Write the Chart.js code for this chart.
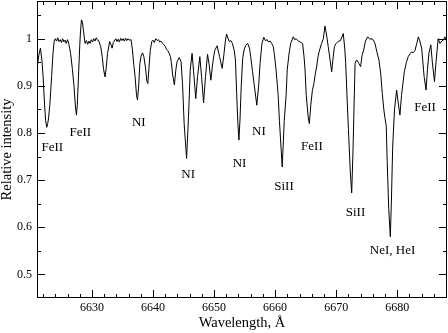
<!DOCTYPE html>
<html>
<head>
<meta charset="utf-8">
<script src="https://cdn.jsdelivr.net/npm/chart.js@4/dist/chart.umd.min.js"></script>
<style>
  html, body { margin: 0; padding: 0; background: #fff; }
  canvas { display: block; }
</style>
</head>
<body>
<canvas id="chart" width="448" height="333"></canvas>
<script>
// spectrum (wavelength in Å, relative intensity)
const wavelength = [
  6621.0, 6621.3, 6621.56, 6621.8, 6622.0, 6622.2, 6622.4, 6622.6, 6622.75, 6622.9,
  6623.1, 6623.4, 6623.6, 6623.8, 6624.0, 6624.2, 6624.4, 6624.6, 6624.8, 6625.0,
  6625.2, 6625.4, 6625.6, 6625.8, 6626.0, 6626.2, 6626.5, 6626.8, 6627.07, 6627.3,
  6627.46, 6627.6, 6627.79, 6628.0, 6628.1, 6628.28, 6628.45, 6628.6, 6628.87, 6629.1,
  6629.3, 6629.5, 6629.7, 6629.9, 6630.1, 6630.3, 6630.5, 6630.7, 6630.9, 6631.1,
  6631.44, 6631.7, 6631.9, 6632.15, 6632.35, 6632.55, 6632.9, 6633.1, 6633.3, 6633.5,
  6633.9, 6634.1, 6634.3, 6634.5, 6634.7, 6634.9, 6635.1, 6635.3, 6635.5, 6635.7,
  6635.9, 6636.1, 6636.4, 6636.6, 6636.85, 6637.07, 6637.3, 6637.46, 6637.65, 6637.85,
  6638.05, 6638.28, 6638.5, 6638.75, 6639.0, 6639.15, 6639.35, 6639.55, 6639.8, 6640.0,
  6640.2, 6640.46, 6640.7, 6640.9, 6641.1, 6641.3, 6641.56, 6641.8, 6642.0, 6642.2,
  6642.4, 6642.64, 6642.85, 6643.0, 6643.2, 6643.5, 6643.75, 6643.95, 6644.3, 6644.6,
  6644.85, 6645.1, 6645.5, 6645.8, 6646.1, 6646.4, 6646.65, 6647.0, 6647.3, 6647.67,
  6647.95, 6648.28, 6648.6, 6648.93, 6649.2, 6649.47, 6649.8, 6650.1, 6650.5, 6650.9,
  6651.33, 6651.6, 6651.85, 6652.05, 6652.3, 6652.5, 6652.75, 6653.0, 6653.3, 6653.5,
  6653.7, 6653.9, 6654.07, 6654.25, 6654.45, 6654.7, 6654.95, 6655.2, 6655.5, 6655.8,
  6656.0, 6656.3, 6656.55, 6657.0, 6657.3, 6657.55, 6657.84, 6658.15, 6658.4, 6658.7,
  6658.9, 6659.2, 6659.45, 6659.7, 6659.9, 6660.15, 6660.5, 6660.7, 6661.16, 6661.5,
  6661.8, 6661.98, 6662.3, 6662.55, 6662.97, 6663.2, 6663.45, 6663.8, 6664.1, 6664.5,
  6664.75, 6664.9, 6665.1, 6665.4, 6665.6, 6665.85, 6666.1, 6666.35, 6666.6, 6666.8,
  6667.0, 6667.2, 6667.6, 6667.9, 6668.16, 6668.4, 6668.7, 6669.0, 6669.26, 6669.5,
  6669.7, 6670.0, 6670.3, 6670.7, 6671.16, 6671.4, 6671.55, 6671.8, 6672.0, 6672.3,
  6672.54, 6672.75, 6672.95, 6673.1, 6673.35, 6673.7, 6674.0, 6674.25, 6674.5, 6674.8,
  6675.16, 6675.5, 6675.9, 6676.2, 6676.36, 6676.7, 6677.0, 6677.3, 6677.55, 6677.8,
  6678.0, 6678.2, 6678.35, 6678.6, 6678.87, 6679.05, 6679.25, 6679.55, 6679.9, 6680.1,
  6680.44, 6680.7, 6681.16, 6681.5, 6681.8, 6682.1, 6682.35, 6682.6, 6682.9, 6683.2,
  6683.46, 6683.7, 6684.0, 6684.4, 6684.72, 6684.95, 6685.2, 6685.5, 6685.75, 6686.1,
  6686.35, 6686.7, 6687.0, 6687.3, 6687.6, 6687.8, 6688.1
];
const intensity = [
  0.937, 0.965, 0.980, 0.955, 0.920, 0.870, 0.827, 0.812, 0.820, 0.832,
  0.860, 0.920, 0.965, 0.994, 1.000, 0.995, 1.002, 0.994, 0.998, 0.992,
  1.000, 0.993, 0.997, 0.990, 0.998, 0.990, 0.969, 0.935, 0.898, 0.855,
  0.838, 0.860, 0.919, 0.985, 1.010, 1.040, 1.035, 1.018, 0.990, 0.996,
  0.988, 0.995, 0.990, 0.998, 0.993, 1.000, 0.995, 1.002, 0.997, 0.996,
  0.983, 0.960, 0.935, 0.919, 0.940, 0.969, 0.994, 0.988, 0.980, 0.992,
  1.000, 0.994, 0.999, 0.993, 1.001, 0.996, 1.000, 0.995, 1.001, 0.996,
  1.000, 0.997, 0.998, 0.980, 0.945, 0.919, 0.880, 0.870, 0.900, 0.948,
  0.963, 0.970, 0.962, 0.940, 0.910, 0.905, 0.940, 0.975, 0.994, 0.997,
  0.992, 1.000, 0.996, 0.998, 0.993, 0.995, 0.990, 0.987, 0.984, 0.978,
  0.975, 0.969, 0.962, 0.950, 0.925, 0.902, 0.935, 0.952, 0.960, 0.951,
  0.900, 0.820, 0.746, 0.830, 0.935, 0.969, 0.930, 0.873, 0.920, 0.962,
  0.920, 0.864, 0.920, 0.967, 0.945, 0.912, 0.950, 0.975, 0.985, 0.962,
  0.937, 0.965, 0.995, 1.010, 1.000, 0.994, 0.996, 0.990, 0.975, 0.955,
  0.884, 0.820, 0.785, 0.830, 0.900, 0.960, 0.978, 0.986, 0.990, 0.980,
  0.962, 0.930, 0.905, 0.859, 0.900, 0.950, 0.990, 1.003, 0.996, 0.998,
  0.993, 0.995, 0.990, 0.983, 0.965, 0.934, 0.880, 0.827, 0.728, 0.827,
  0.880, 0.934, 0.970, 0.990, 1.004, 0.998, 1.000, 0.995, 0.993, 0.990,
  0.960, 0.934, 0.880, 0.835, 0.820, 0.860, 0.890, 0.905, 0.927, 0.940,
  0.960, 0.972, 0.990, 1.000, 1.027, 1.010, 0.983, 0.955, 0.930, 0.960,
  0.983, 0.990, 0.994, 0.996, 1.011, 0.980, 0.950, 0.870, 0.810, 0.720,
  0.673, 0.760, 0.870, 0.948, 0.955, 0.948, 0.941, 0.965, 0.976, 0.995,
  1.004, 0.999, 1.000, 0.994, 0.990, 0.970, 0.955, 0.925, 0.884, 0.850,
  0.831, 0.815, 0.742, 0.640, 0.580, 0.660, 0.770, 0.849, 0.891, 0.870,
  0.838, 0.880, 0.930, 0.950, 0.962, 0.968, 0.972, 0.970, 0.975, 0.990,
  1.004, 0.995, 0.980, 0.920, 0.891, 0.935, 0.970, 0.987, 0.950, 0.909,
  0.950, 1.000, 0.990, 0.995, 0.998, 1.004, 0.995
];

// tick labels
const xTicks = [6630, 6640, 6650, 6660, 6670, 6680];
const yTicks = [0.5, 0.6, 0.7, 0.8, 0.9, 1];

// line identifications (text, wavelength, intensity)
const lineNames = ["FeII", "FeII", "NI", "NI", "NI", "NI", "SiII", "FeII", "SiII", "NeI, HeI", "FeII"];
const lineLambda = [6623.5, 6628.1, 6637.67, 6645.75, 6654.18, 6657.35, 6661.45, 6666.03, 6673.16, 6679.23, 6684.56];
const lineLevel = [0.770, 0.800, 0.822, 0.711, 0.736, 0.802, 0.686, 0.771, 0.631, 0.550, 0.853];

const serif = "'Liberation Serif', 'Times New Roman', serif";

// frame, inward ticks on all four sides and line labels
const framePlugin = {
  id: "frame",
  afterDatasetsDraw(chart) {
    const { ctx, chartArea: a, scales: { x, y } } = chart;
    ctx.save();
    ctx.strokeStyle = "#000";
    ctx.lineWidth = 1;
    ctx.beginPath();
    for (let w = 6622; w <= 6688; w += 2) {
      const px = Math.round(x.getPixelForValue(w)) + 0.5;
      const len = w % 10 === 0 ? 8 : 4;
      ctx.moveTo(px, a.bottom); ctx.lineTo(px, a.bottom - len);
      ctx.moveTo(px, a.top); ctx.lineTo(px, a.top + len);
    }
    for (let k = 10; k <= 21; k++) {
      const v = k * 0.05;
      const py = Math.round(y.getPixelForValue(v)) + 0.5;
      const len = k % 2 === 0 ? 8 : 4;
      ctx.moveTo(a.left, py); ctx.lineTo(a.left + len, py);
      ctx.moveTo(a.right, py); ctx.lineTo(a.right - len, py);
    }
    ctx.stroke();
    ctx.strokeRect(Math.round(a.left) + 0.5, Math.round(a.top) + 0.5,
      Math.round(a.right - a.left) - 1, Math.round(a.bottom - a.top) - 1);

    ctx.fillStyle = "#000";
    ctx.font = "13px " + serif;
    ctx.textAlign = "center";
    ctx.textBaseline = "middle";
    lineNames.forEach((t, i) => {
      ctx.fillText(t, x.getPixelForValue(lineLambda[i]), y.getPixelForValue(lineLevel[i]));
    });
    ctx.restore();
  }
};

const ctx = document.getElementById("chart").getContext("2d");
new Chart(ctx, {
  type: "line",
  data: {
    datasets: [{
      data: wavelength.map((w, i) => ({ x: w, y: intensity[i] })),
      borderColor: "#000",
      borderWidth: 1,
      pointRadius: 0,
      tension: 0,
      fill: false
    }]
  },
  options: {
    responsive: false,
    animation: false,
    layout: { padding: { top: 1, right: 1, left: 0, bottom: 0 } },
    plugins: { legend: { display: false }, tooltip: { enabled: false } },
    scales: {
      x: {
        type: "linear",
        min: 6621,
        max: 6688.15,
        afterBuildTicks: s => { s.ticks = xTicks.map(v => ({ value: v })); },
        afterFit: s => { s.height = 35; s.paddingLeft = 0; s.paddingRight = 0; },
        grid: { display: false, drawTicks: false },
        border: { display: false },
        ticks: { color: "#000", padding: 3, maxRotation: 0, callback: v => String(v), font: { family: serif, size: 12 } },
        title: {
          display: true, text: "Wavelength, Å", color: "#000",
          font: { family: serif, size: 14.5, lineHeight: 1.2 },
          padding: { top: 0, bottom: 1 }
        }
      },
      y: {
        min: 0.45,
        max: 1.08,
        afterBuildTicks: s => { s.ticks = yTicks.map(v => ({ value: v })); },
        afterFit: s => { s.width = 37; s.paddingTop = 0; s.paddingBottom = 0; },
        grid: { display: false, drawTicks: false },
        border: { display: false },
        ticks: { color: "#000", padding: 5, callback: v => String(v), font: { family: serif, size: 12 } },
        title: {
          display: true, text: "Relative intensity", color: "#000",
          font: { family: serif, size: 14.5, lineHeight: 1 },
          padding: { top: 0, bottom: 0 }
        }
      }
    }
  },
  plugins: [framePlugin]
});
</script>
</body>
</html>
